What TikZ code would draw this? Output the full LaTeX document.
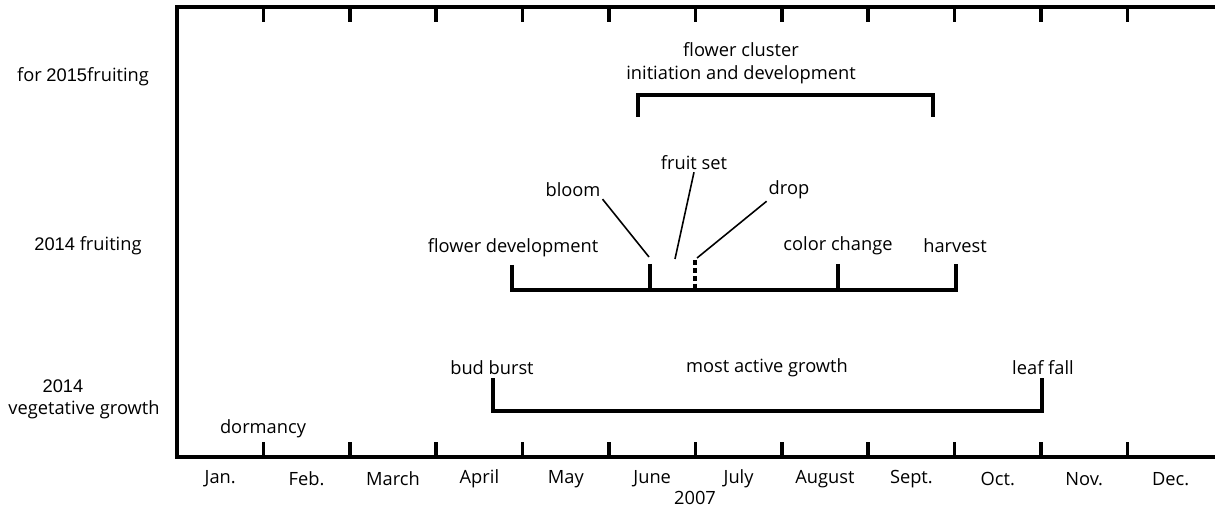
\documentclass[tikz,border=0pt]{standalone}
\usepackage{fontspec}
\setmainfont{Open Sans}
\newfontfamily\numfont{Liberation Sans}
\usetikzlibrary{positioning}

\begin{document}
\begin{tikzpicture}[x=0.02cm, y=-0.02cm, font=\fontsize{10.4}{13}\selectfont]
        % Setup the styles for lines and labels
        \tikzset{frame line/.style={line width=2pt},
                 span line/.style={line width=2.1pt},
                 leader line/.style={line width=0.9pt},
                 label text/.style={inner sep=1pt, align=center}}

        \useasboundingbox (0,0) rectangle (1215,510);

        % Draw the time axis with its month ticks
        \draw[frame line] (1215,7) -- (177,7) -- (177,457) -- (1215,457);
        \foreach \m in {1,...,11} {
            \draw[frame line] (177+86.4*\m,7) -- ++(0,15);
            \draw[frame line] (177+86.4*\m,457) -- ++(0,-15);
        }
        \foreach \name [count=\m] in {Jan., Feb., March, April, May, June,
                                      July, August, Sept., Oct., Nov., Dec.}
            \node[label text] (month\m) at (177+86.4*\m-43.2,479) {\name};
        \node[label text] (year) at (695,498) {2007};

        % Draw the row labels
        \node[label text] (row15)  at (83,77)  {for {\numfont 2015}fruiting};
        \node[label text] (row14)  at (88,246) {{\numfont 2014} fruiting};
        \node[label text] (rowyr)  at (63,386) {\numfont 2014};
        \node[label text] (rowveg) at (84,410) {vegetative growth};

        % Flower cluster for next year
        \coordinate (fcleft)  at (638,117);
        \coordinate (fcright) at (933,117);
        \coordinate (fctop)   at (0,95);
        \draw[span line] (fcleft) -- (fcleft |- fctop) -- (fcright |- fctop) -- (fcright);
        \node[label text] (fclabel) at (741,63) {flower cluster\\initiation and development};

        % Fruiting of this year
        \coordinate (fbase)   at (0,290);
        \coordinate (flowdev) at (512,265);
        \coordinate (bloomtk) at (650,264);
        \coordinate (droptk)  at (695,260);
        \coordinate (colortk) at (838,264);
        \coordinate (harvtk)  at (956,264);
        \draw[span line] (flowdev) -- (flowdev |- fbase) -- (harvtk |- fbase) -- (harvtk);
        \draw[span line] (bloomtk) -- (bloomtk |- fbase);
        \draw[span line] (colortk) -- (colortk |- fbase);
        \draw[span line, dash pattern=on 2.8pt off 1.7pt] (droptk) -- (droptk |- fbase);

        \node[label text] (flowdevl) at (513,248) {flower development};
        \node[label text] (colorl)   at (838,246) {color change};
        \node[label text] (harvl)    at (955,246) {harvest};
        \node[label text] (bloom)    at (573,190) {bloom};
        \node[label text] (fruitset) at (694,163) {fruit set};
        \node[label text] (drop)     at (789,190) {drop};

        \coordinate (bloomend) at (649,257);
        \coordinate (fruitend) at (675,259);
        \coordinate (dropend)  at (697,258);
        \draw[leader line] (bloom.south east) -- (bloomend);
        \draw[leader line] (fruitset.south)   -- (fruitend);
        \draw[leader line] (drop.south west)  -- (dropend);

        % Vegetative growth
        \coordinate (vbase)   at (0,411);
        \coordinate (budtk)   at (493,378);
        \coordinate (leaftk)  at (1042,378);
        \draw[span line] (budtk) -- (budtk |- vbase) -- (leaftk |- vbase) -- (leaftk);

        \node[label text] (budl)    at (492,368)  {bud burst};
        \node[label text] (activel) at (767,368)  {most active growth};
        \node[label text] (leafl)   at (1043,368) {leaf fall};
        \node[label text] (dorml)   at (263,429)  {dormancy};
\end{tikzpicture}
\end{document}
